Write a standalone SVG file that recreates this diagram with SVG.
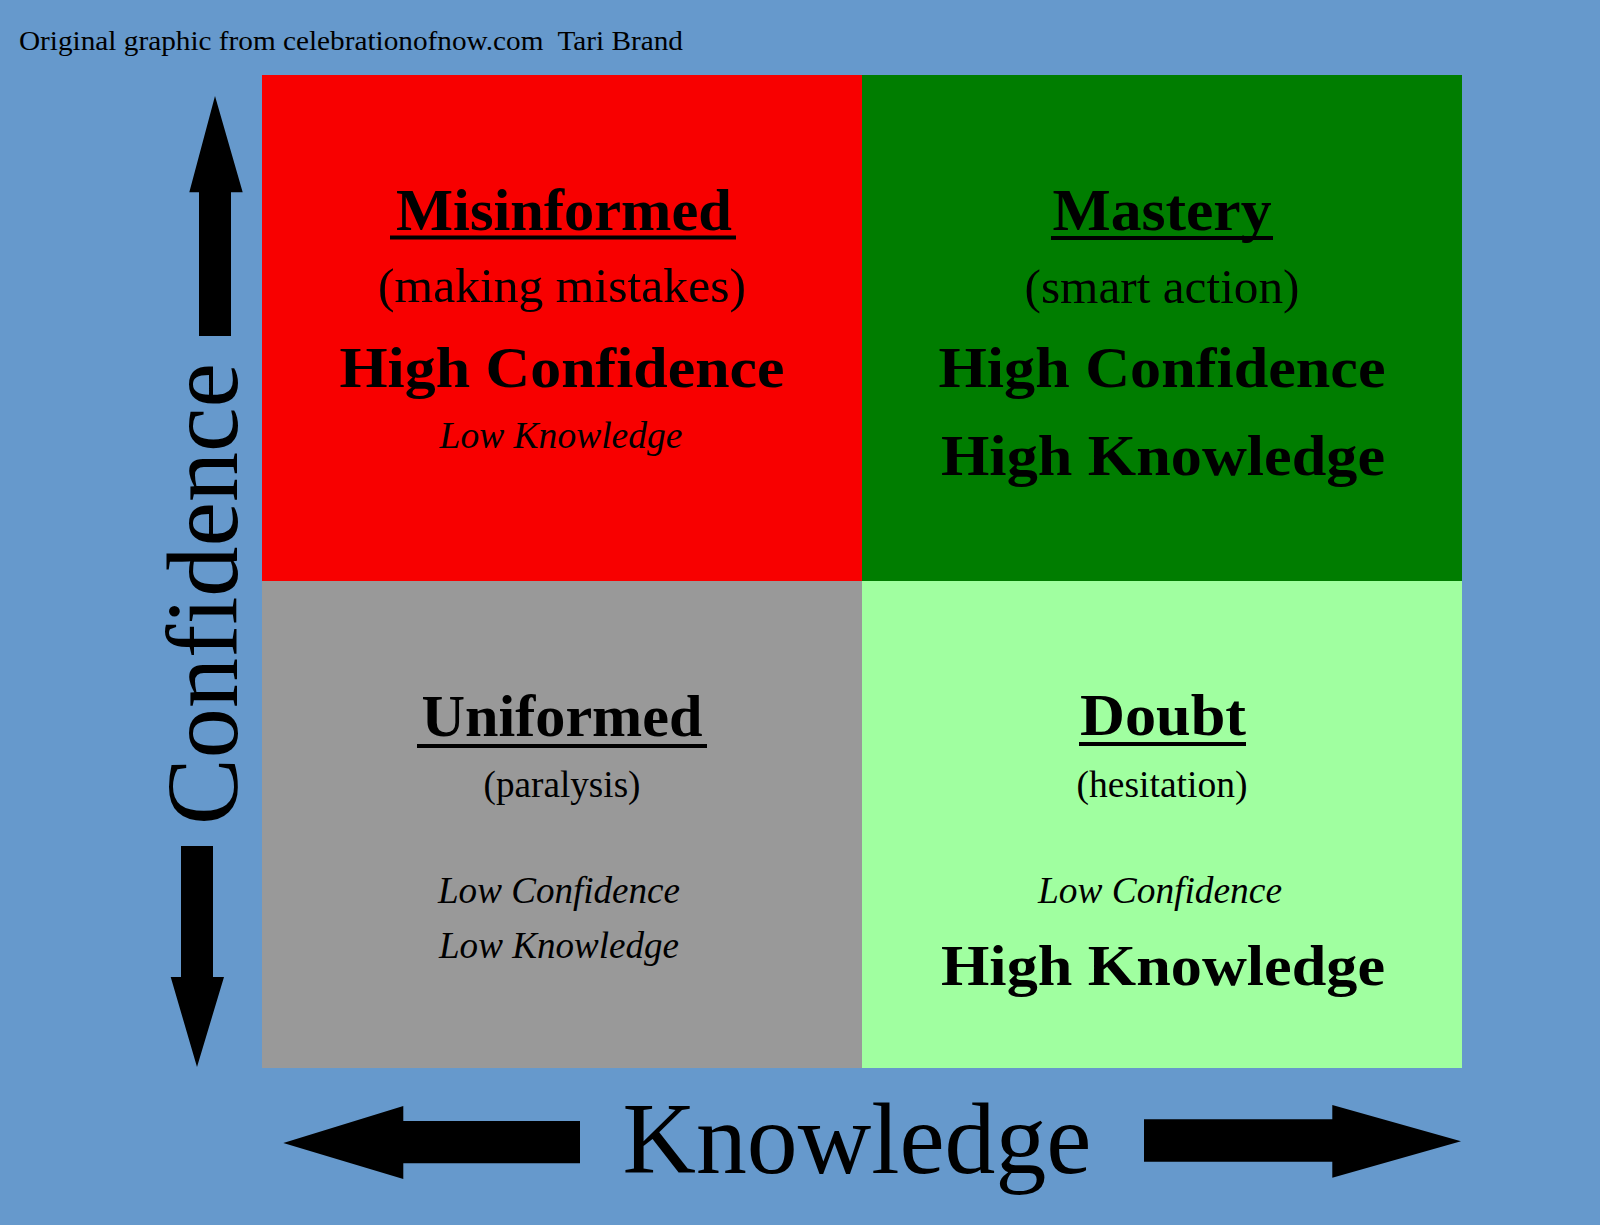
<svg xmlns="http://www.w3.org/2000/svg" width="1600" height="1225" viewBox="0 0 1600 1225">
  <style>
    text { font-family: "Liberation Serif", "Times New Roman", serif; fill: #000; text-anchor: middle; }
    .title { font-size: 60px; font-weight: bold; }
    .sub1 { font-size: 48px; }
    .sub2 { font-size: 38px; }
    .big { font-size: 58px; font-weight: bold; }
    .ital { font-size: 37px; font-style: italic; }
    .axis { font-size: 102px; }
    .credit { font-size: 28px; text-anchor: start; }
    .arrow { fill: #000; }
  </style>
  <rect x="0" y="0" width="1600" height="1225" fill="#6699CC"/>
  <text class="credit" x="19" y="50" textLength="664" lengthAdjust="spacingAndGlyphs" xml:space="preserve">Original graphic from celebrationofnow.com  Tari Brand</text>

  <g id="misinformed">
    <rect x="262" y="75" width="600" height="506" fill="#F80000"/>
    <text class="title" x="564" y="230" textLength="336" lengthAdjust="spacingAndGlyphs">Misinformed</text>
    <rect x="390" y="235.5" width="346" height="4"/>
    <text class="sub1" x="562" y="302" textLength="368" lengthAdjust="spacingAndGlyphs">(making mistakes)</text>
    <text class="big" x="562" y="387" textLength="445" lengthAdjust="spacingAndGlyphs">High Confidence</text>
    <text class="ital" x="561" y="448" textLength="243" lengthAdjust="spacingAndGlyphs">Low Knowledge</text>
  </g>

  <g id="mastery">
    <rect x="862" y="75" width="600" height="506" fill="#007D00"/>
    <text class="title" x="1162" y="230" textLength="219" lengthAdjust="spacingAndGlyphs">Mastery</text>
    <rect x="1051" y="236" width="222" height="4"/>
    <text class="sub1" x="1162" y="303" textLength="275" lengthAdjust="spacingAndGlyphs">(smart action)</text>
    <text class="big" x="1162" y="387" textLength="447" lengthAdjust="spacingAndGlyphs">High Confidence</text>
    <text class="big" x="1163" y="475" textLength="444" lengthAdjust="spacingAndGlyphs">High Knowledge</text>
  </g>

  <g id="uniformed">
    <rect x="262" y="581" width="600" height="487" fill="#999999"/>
    <text class="title" x="562" y="736" textLength="281" lengthAdjust="spacingAndGlyphs">Uniformed</text>
    <rect x="417" y="744" width="290" height="4"/>
    <text class="sub2" x="562" y="797" textLength="157" lengthAdjust="spacingAndGlyphs">(paralysis)</text>
    <text class="ital" x="559" y="903" textLength="242" lengthAdjust="spacingAndGlyphs">Low Confidence</text>
    <text class="ital" x="559" y="958" textLength="240" lengthAdjust="spacingAndGlyphs">Low Knowledge</text>
  </g>

  <g id="doubt">
    <rect x="862" y="581" width="600" height="487" fill="#A0FFA0"/>
    <text class="title" x="1163" y="735" textLength="166" lengthAdjust="spacingAndGlyphs">Doubt</text>
    <rect x="1079" y="742" width="167" height="4"/>
    <text class="sub2" x="1162" y="797" textLength="171" lengthAdjust="spacingAndGlyphs">(hesitation)</text>
    <text class="ital" x="1160" y="903" textLength="244" lengthAdjust="spacingAndGlyphs">Low Confidence</text>
    <text class="big" x="1163" y="985" textLength="444" lengthAdjust="spacingAndGlyphs">High Knowledge</text>
  </g>

  <g id="axis-confidence">
    <text class="axis" transform="translate(237,594) rotate(-90)" x="0" y="0" textLength="462" lengthAdjust="spacingAndGlyphs">Confidence</text>
  </g>
  <g id="axis-knowledge">
    <text class="axis" x="857" y="1173" textLength="469" lengthAdjust="spacingAndGlyphs">Knowledge</text>
  </g>

  <g id="connectors">
    <polygon class="arrow" points="215,96 242.7,192.3 231,192.3 231,336 199,336 199,192.3 189.3,192.3"/>
    <polygon class="arrow" points="181,846 213,846 213,977 224,977 197,1067 170.7,977 181,977"/>
    <polygon class="arrow" points="283.3,1143 403.3,1106 403.3,1121 580,1121 580,1163.3 403.3,1163.3 403.3,1179"/>
    <polygon class="arrow" points="1144,1119.3 1332.3,1119.3 1332.3,1105 1461,1141.3 1332.3,1177.7 1332.3,1161.7 1144,1161.7"/>
  </g>
</svg>
